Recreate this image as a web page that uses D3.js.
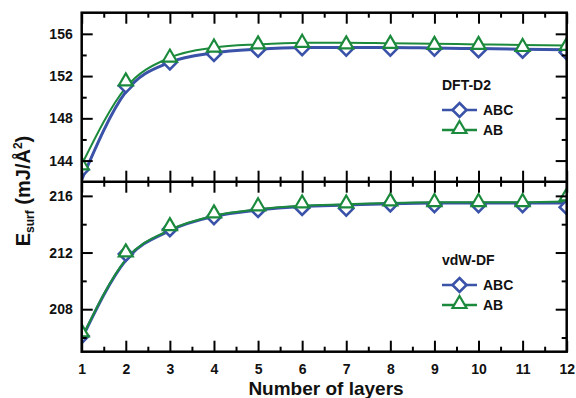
<!DOCTYPE html>
<html><head><meta charset="utf-8">
<script src="https://cdn.jsdelivr.net/npm/d3@7"></script>
<style>
html,body{margin:0;padding:0;background:#fff;}
text{font-family:"Liberation Sans",Arial,Helvetica,sans-serif;font-weight:bold;}
</style></head>
<body><svg id="c" width="576" height="398"></svg>
<script>
const layers = [1,2,3,4,5,6,7,8,9,10,11,12];
// DFT-D2 panel
const d2ABC = [143.15,151.1,153.3,154.1,154.5,154.65,154.6,154.6,154.6,154.45,154.4,154.25];
const d2AB  = [143.6,151.55,153.8,154.75,155.05,155.2,155.05,155.1,155.0,155.0,154.8,154.9];
const d2ABCfit = [142.2,150.5,153.3,154.2,154.55,154.7,154.7,154.7,154.65,154.6,154.55,154.5];
const d2ABfit  = [143.6,150.9,153.75,154.7,155.0,155.15,155.15,155.1,155.05,155.0,154.95,154.9];
// vdW-DF panel
const vdwABC = [206.1,211.9,213.65,214.5,215.0,215.15,215.1,215.4,215.35,215.35,215.35,215.2];
const vdwAB  = [206.4,212.05,213.9,214.8,215.3,215.5,215.5,215.65,215.6,215.6,215.6,216.0];
const vdwABCfit = [205.9,211.45,213.55,214.55,215.0,215.25,215.35,215.45,215.5,215.5,215.5,215.5];
const vdwABfit  = [205.95,211.5,213.6,214.6,215.05,215.3,215.4,215.5,215.55,215.55,215.55,215.6];
const xTicks = [1,2,3,4,5,6,7,8,9,10,11,12];
const xMinor = [1.5,2.5,3.5,4.5,5.5,6.5,7.5,8.5,9.5,10.5,11.5];
const topTicks = [144,148,152,156];
const topMinor = [146,150,154];
const botTicks = [208,212,216];
const botMinor = [206,210,214];
const seriesNames = ["ABC","AB"];
const panelLabels = ["DFT-D2","vdW-DF"];

const blue = "#3a52a8", green = "#1c8a3c";
const svg = d3.select("#c");
const L = 81.7, R = 566.7, T = 12.7, M = 181.7, B = 351.7;
const x = d3.scaleLinear().domain([1,12]).range([L,R]);
const yT = d3.scaleLinear().domain([142,158]).range([M,T]);
const yB = d3.scaleLinear().domain([205,217]).range([B,M]);

const defs = svg.append("defs");
defs.append("clipPath").attr("id","clipT").append("rect").attr("x",L).attr("y",T).attr("width",R-L).attr("height",M-T);
defs.append("clipPath").attr("id","clipB").append("rect").attr("x",L).attr("y",M).attr("width",R-L).attr("height",B-M);

const diamond = "M0,-7L7,0L0,7L-7,0Z";
const tri = "M0,-7.5L7,4.5L-7,4.5Z";

function panel(y, clip, abc, ab, abcFit, abFit) {
  const g = svg.append("g").attr("clip-path",`url(#${clip})`);
  const line = d3.line().x((d,i)=>x(layers[i])).y(d=>y(d)).curve(d3.curveMonotoneX);
  g.append("path").attr("d",line(abcFit)).attr("fill","none").attr("stroke",blue).attr("stroke-width",3);
  g.append("path").attr("d",line(abFit)).attr("fill","none").attr("stroke",green).attr("stroke-width",2);
  g.selectAll(null).data(abc).enter().append("path").attr("d",diamond)
    .attr("transform",(d,i)=>`translate(${x(layers[i])},${y(d)})`)
    .attr("fill","#fff").attr("stroke",blue).attr("stroke-width",2.6);
  g.selectAll(null).data(ab).enter().append("path").attr("d",tri)
    .attr("transform",(d,i)=>`translate(${x(layers[i])},${y(d)})`)
    .attr("fill","#fff").attr("stroke",green).attr("stroke-width",2.2);
}
panel(yT,"clipT",d2ABC,d2AB,d2ABCfit,d2ABfit);
panel(yB,"clipB",vdwABC,vdwAB,vdwABCfit,vdwABfit);

function styleAxis(g){
  g.select(".domain").remove();
  g.selectAll(".tick line").attr("stroke","#000").attr("stroke-width",2);
  g.selectAll(".tick text").attr("fill","#111").style("font-size","14px");
}
// x axes
function xAxisAt(yPos, dir, labels){
  const big = 11, small = 5;
  const g1 = svg.append("g").attr("transform",`translate(0,${yPos})`)
    .call(d3.axisBottom(x).tickValues(xTicks).tickSize(dir*big).tickFormat(labels? d3.format("d") : ""));
  const g2 = svg.append("g").attr("transform",`translate(0,${yPos})`)
    .call(d3.axisBottom(x).tickValues(xMinor).tickSize(dir*small).tickFormat(""));
  [g1,g2].forEach(styleAxis);
  if (labels) g1.selectAll(".tick text").attr("y",12);
}
xAxisAt(T, 1, false);
xAxisAt(M, 1, false);
xAxisAt(M, -1, false);
xAxisAt(B, -1, true);

function yAxisAt(y, ticks, minor, xPos, dir, labels){
  const g1 = svg.append("g").attr("transform",`translate(${xPos},0)`)
    .call(d3.axisLeft(y).tickValues(ticks).tickSize(dir*11).tickPadding(9).tickFormat(labels? d3.format("d"):""));
  const g2 = svg.append("g").attr("transform",`translate(${xPos},0)`)
    .call(d3.axisLeft(y).tickValues(minor).tickSize(dir*5).tickFormat(""));
  [g1,g2].forEach(styleAxis);
}
yAxisAt(yT, topTicks, topMinor, L, -1, true);
yAxisAt(yT, topTicks, topMinor, R, 1, false);
yAxisAt(yB, botTicks, botMinor, L, -1, true);
yAxisAt(yB, botTicks, botMinor, R, 1, false);

// frames
svg.append("rect").attr("x",L).attr("y",T).attr("width",R-L).attr("height",B-T)
  .attr("fill","none").attr("stroke","#000").attr("stroke-width",2.5);
svg.append("line").attr("x1",L).attr("x2",R).attr("y1",M).attr("y2",M).attr("stroke","#000").attr("stroke-width",2.5);

// legends
function legend(lx, ly, title){
  svg.append("text").attr("x",lx).attr("y",ly).text(title).style("font-size","14px").attr("fill","#111");
  [[blue,diamond,2.6,seriesNames[0]],[green,tri,2.2,seriesNames[1]]].forEach((s,i)=>{
    const yy = ly + 20 + i*20;
    svg.append("line").attr("x1",lx).attr("x2",lx+35).attr("y1",yy).attr("y2",yy).attr("stroke",s[0]).attr("stroke-width",2.5);
    svg.append("path").attr("d",s[1]).attr("transform",`translate(${lx+17.5},${yy - (i?1.5:0)})`)
      .attr("fill","#fff").attr("stroke",s[0]).attr("stroke-width",s[2]);
    svg.append("text").attr("x",lx+41).attr("y",yy+5).text(s[3]).style("font-size","14px").attr("fill","#111");
  });
}
legend(442, 90, panelLabels[0]);
legend(442, 265, panelLabels[1]);

// axis titles
svg.append("text").attr("x",326).attr("y",395).attr("text-anchor","middle")
  .style("font-size","19px").attr("fill","#111").text("Number of layers");
const yt = svg.append("text").attr("transform","translate(30,191) rotate(-90)").attr("text-anchor","middle")
  .style("font-size","20px").attr("fill","#111");
yt.append("tspan").text("E");
yt.append("tspan").attr("dy",4).style("font-size","12px").text("surf");
yt.append("tspan").attr("dy",-4).text(" (mJ/Å");
yt.append("tspan").attr("dy",-8).style("font-size","12px").text("2");
yt.append("tspan").attr("dy",8).text(")");
</script></body></html>
